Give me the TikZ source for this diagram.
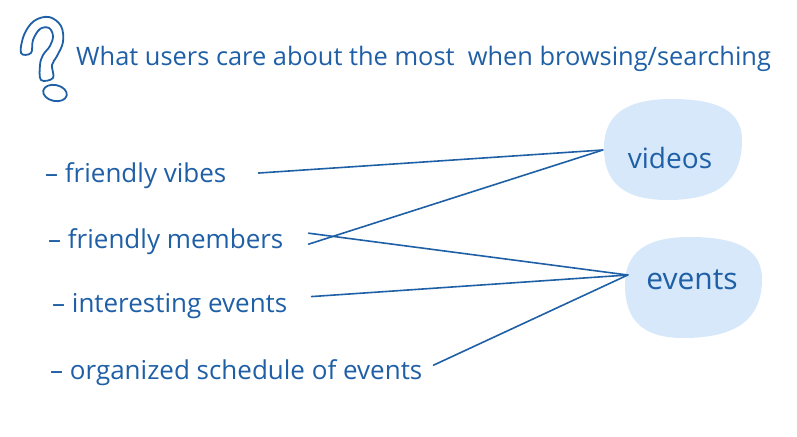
\documentclass[tikz,border=0pt]{standalone}
\usepackage{fontspec}
\setmainfont{Open Sans}
\usepackage{tikz}
\usetikzlibrary{calc,positioning,shapes.geometric}
\definecolor{inkblue}{HTML}{1F5FA6}
\definecolor{blobfill}{HTML}{D6E8FA}

\begin{document}
\begin{tikzpicture}[x=1pt,y=-1pt,
        item/.style={anchor=base west, inner sep=0pt, text=inkblue, font=\fontsize{26}{30}\selectfont},
        theme/.style={ellipse, minimum width=138pt, minimum height=100pt, inner sep=0pt},
        link/.style={draw=inkblue, line width=1.6pt, line cap=round}]
        \useasboundingbox (0,0) rectangle (797,436);

        % question mark, drawn hollow
        \draw[inkblue, line width=1.8pt, line join=round]
            plot[smooth cycle, tension=0.6] coordinates {(21,53) (24,35) (34,21) (49,17) (61,26) (63,42) (57,56) (52,65) (53,78) (41,80) (40,65) (43,55) (50,46) (53,36) (49,28) (40,29) (33,40) (31,53)};
        \draw[inkblue, line width=1.8pt, rotate around={-12:(55,93)}] (55,93) ellipse [x radius=12, y radius=8];

        % question
        \node[item, font=\fontsize{25.4}{30}\selectfont] (title) at (76,66) {What users care about the most\ \ when browsing/searching};

        % the four answers
        \node[item] (vibes)    at (45,182)  {-- friendly vibes};
        \node[item] (members)  at (48,248)  {-- friendly members};
        \node[item] (interest) at (52,312)  {-- interesting events};
        \node[item] (schedule) at (50,379)  {-- organized schedule of events};

        % the two blobs (hand drawn, so not a plain shape)
        \fill[blobfill] (604,148) .. controls (604,114.7) and (625.8,99) .. (672,99)
            .. controls (719.6,99) and (742,112.1) .. (742,140)
            .. controls (742,180.8) and (718.3,200) .. (668,200)
            .. controls (624.5,200) and (604,183.4) .. (604,148) -- cycle;
        \fill[blobfill] (625,285) .. controls (625,252.4) and (645.8,237) .. (690,237)
            .. controls (739,237) and (762,250.4) .. (762,279)
            .. controls (762,319.1) and (736.7,338) .. (683,338)
            .. controls (643.6,338) and (625,321) .. (625,285) -- cycle;

        % the two themes
        \node[theme] (videos) at (672,150) {};
        \node[theme] (events) at (693,287) {};
        \node[text=inkblue, font=\fontsize{28}{32}\selectfont] (vtext) at (670,158) {videos};
        \node[text=inkblue, font=\fontsize{30}{34}\selectfont] (etext) at (692,280) {events};

        \coordinate (evin) at ($(events.west)+(4,-12)$);

        % who goes where
        \draw[link, shorten <=32pt] (vibes.east) -- (videos.west);
        \draw[link] ([xshift=25pt,yshift=-3pt]members.east) -- (videos.west);
        \draw[link] ([xshift=25pt,yshift=8pt]members.east) -- (evin);
        \draw[link] ([xshift=24pt,yshift=9pt]interest.east) -- (evin);
        \draw[link] ([xshift=11pt,yshift=7pt]schedule.east) -- (evin);

    \end{tikzpicture}
\end{document}
